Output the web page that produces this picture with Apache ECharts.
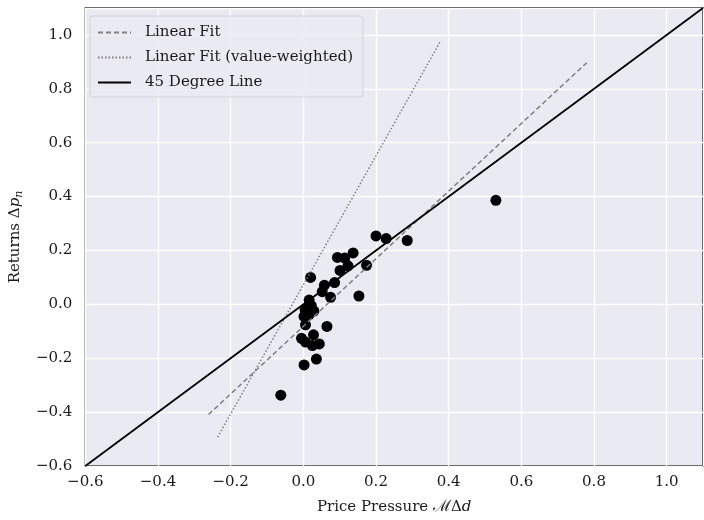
<!DOCTYPE html>
<html>
<head>
<meta charset="utf-8">
<script src="https://cdn.jsdelivr.net/npm/echarts@6/dist/echarts.min.js"></script>
<style>
  html, body { margin: 0; padding: 0; background: #fff; }
  #chart { width: 704px; height: 520px; }
</style>
</head>
<body>
<div id="chart"></div>
<script>
// scatter points
const pressureX = [0.200, 0.228, 0.286, 0.094, 0.114, 0.137, 0.123, 0.101, 0.174, 0.020,
                   0.086, 0.058, 0.052, 0.075, 0.153, 0.016, 0.011, 0.029, 0.002, 0.015,
                   0.006, 0.065, -0.005, 0.006, 0.028, 0.025, 0.044, 0.036, 0.002, -0.062,
                   0.530, 0.005, 0.022];
const returnsY = [0.254, 0.244, 0.237, 0.174, 0.172, 0.191, 0.143, 0.126, 0.145, 0.100,
                  0.081, 0.071, 0.047, 0.026, 0.031, 0.016, -0.015, -0.025, -0.045, -0.040,
                  -0.076, -0.082, -0.126, -0.140, -0.113, -0.153, -0.147, -0.203, -0.225, -0.337,
                  0.386, -0.020, -0.005];

// fit lines (end points)
const fitX = [-0.261, 0.780];
const fitY = [-0.409, 0.897];
const fitVwX = [-0.236, 0.376];
const fitVwY = [-0.493, 0.973];
const diagX = [-0.6, 1.1];
const diagY = [-0.6, 1.1];

const axisMin = -0.6;
const axisMax = 1.1;
const tickStep = 0.2;

const pairs = (xs, ys) => xs.map((x, i) => [x, ys[i]]);

const fmt = v => {
    let s = (Math.abs(v) < 1e-9 ? 0 : v).toFixed(1);
    return s.replace('-', '\u2212');
};

const font = 'DejaVu Serif';

const chart = echarts.init(document.getElementById('chart'));

chart.setOption({
    animation: false,
    textStyle: { fontFamily: font },
    grid: {
        left: 82, right: 1, top: 8, bottom: 52,
        show: true,
        backgroundColor: '#eaeaf2',
        borderColor: '#000',
        borderWidth: 1.3
    },
    legend: {
        left: 90, top: 16,
        orient: 'vertical',
        padding: [9, 10, 7, 7],
        itemWidth: 33, itemHeight: 14, itemGap: 10,
        backgroundColor: 'rgba(234,234,242,0.85)',
        borderColor: '#d2d2da', borderWidth: 1, borderRadius: 3,
        itemStyle: { opacity: 0 },
        textStyle: { fontFamily: font, fontSize: 15, color: '#1a1a1a', padding: [0, 0, 0, 9] },
        data: ['Linear Fit', 'Linear Fit (value-weighted)', '45 Degree Line']
    },
    xAxis: {
        type: 'value',
        min: axisMin, max: axisMax, interval: tickStep,
        axisLine: { show: false },
        axisTick: { show: false },
        splitLine: { lineStyle: { color: '#fff', width: 1.3 } },
        axisLabel: {
            formatter: fmt, margin: 9, showMaxLabel: false,
            fontFamily: font, fontSize: 15, color: '#1a1a1a'
        },
        name: 'Price Pressure {cal|\u2133}\u0394{i|d}',
        nameLocation: 'middle',
        nameGap: 33,
        nameTextStyle: {
            fontFamily: font, fontSize: 15, color: '#1a1a1a',
            rich: {
                cal: { fontFamily: font, fontSize: 16, color: '#1a1a1a' },
                i: { fontFamily: font, fontSize: 15, fontStyle: 'italic', color: '#1a1a1a' }
            }
        }
    },
    yAxis: {
        type: 'value',
        min: axisMin, max: axisMax, interval: tickStep,
        axisLine: { show: false },
        axisTick: { show: false },
        splitLine: { lineStyle: { color: '#fff', width: 1.3 } },
        axisLabel: {
            formatter: fmt, margin: 13, showMaxLabel: false,
            fontFamily: font, fontSize: 15, color: '#1a1a1a'
        },
        name: 'Returns \u0394{i|p}{sub|n}',
        nameLocation: 'middle',
        nameGap: 58,
        nameTextStyle: {
            fontFamily: font, fontSize: 15, color: '#1a1a1a',
            rich: {
                i: { fontFamily: font, fontSize: 15, fontStyle: 'italic', color: '#1a1a1a' },
                sub: { fontFamily: font, fontSize: 11, fontStyle: 'italic', color: '#1a1a1a', padding: [8, 0, 0, 0] }
            }
        }
    },
    series: [
        {
            name: 'points',
            type: 'scatter',
            symbolSize: 11,
            itemStyle: { color: '#000', opacity: 1 },
            data: pairs(pressureX, returnsY),
            z: 2
        },
        {
            name: 'Linear Fit',
            type: 'line',
            showSymbol: false, symbol: 'none',
            lineStyle: { color: '#7f7f7f', width: 1.5, type: [5, 3] },
            itemStyle: { color: '#7f7f7f' },
            data: pairs(fitX, fitY),
            z: 3
        },
        {
            name: 'Linear Fit (value-weighted)',
            type: 'line',
            showSymbol: false, symbol: 'none',
            lineStyle: { color: '#7f7f7f', width: 1.5, type: [1.5, 2] },
            itemStyle: { color: '#7f7f7f' },
            data: pairs(fitVwX, fitVwY),
            z: 3
        },
        {
            name: '45 Degree Line',
            type: 'line',
            showSymbol: false, symbol: 'none',
            lineStyle: { color: '#000', width: 1.8 },
            itemStyle: { color: '#000' },
            data: pairs(diagX, diagY),
            z: 3
        }
    ]
});
</script>
</body>
</html>
